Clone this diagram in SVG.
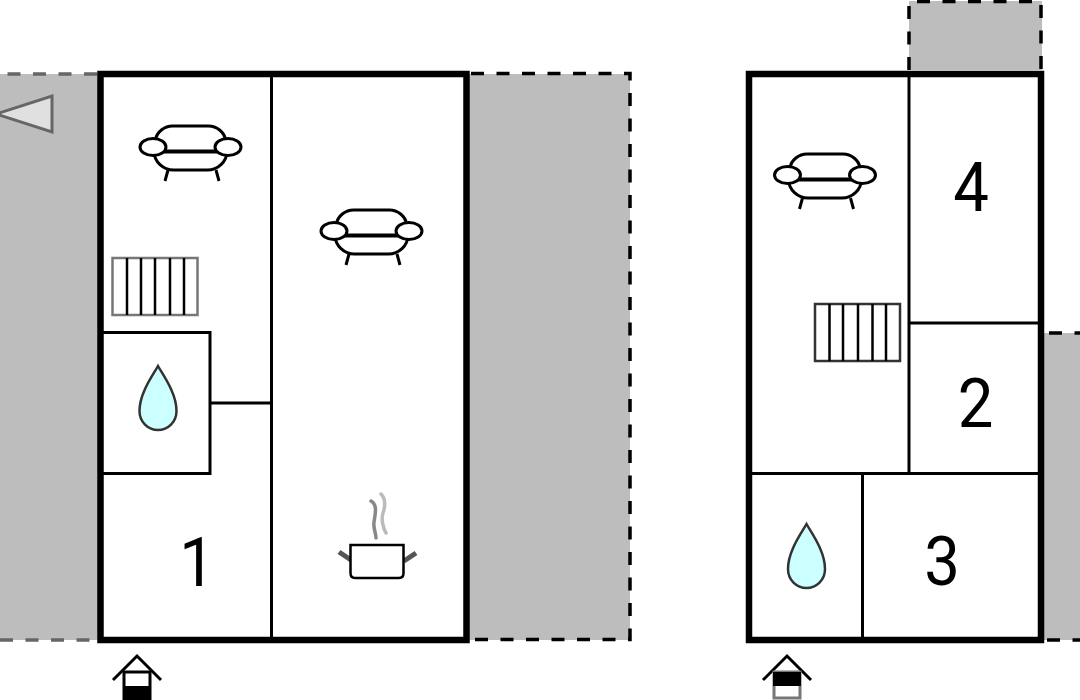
<svg xmlns="http://www.w3.org/2000/svg" width="1080" height="700" viewBox="0 0 1080 700">
<style>
.yard{fill:#bdbdbd}
.dash{fill:none;stroke:#000;stroke-width:3.500;stroke-dasharray:13 12.500}
.dashg{fill:none;stroke:#666;stroke-width:3.500;stroke-dasharray:13 12.500}
.outer{fill:#fff;stroke:#000;stroke-width:6.500}
.wall{fill:none;stroke:#000;stroke-width:3}
.ln{fill:none;stroke:#000;stroke-width:2.500}
.num{font-family:Roboto,"Liberation Sans",Arial,sans-serif;font-size:69px;fill:#000;text-anchor:middle}
.drop{fill:#ccffff;stroke:#333;stroke-width:2.500}
.sofa path,.sofa ellipse{fill:#fff;stroke:#000;stroke-width:3}
</style>
<defs>
<g id="sofa" class="sofa">
<path d="M-35 9V-3C-34-11-26-17-18-17H18C26-17 34-11 35-3V9Z"/>
<path d="M-36.500 8C-36.500 19-27 27-17 27H17C27 27 36.500 19 36.500 8Z"/>
<path d="M-27 9H27"/>
<ellipse cx="-37.500" cy="4" rx="13" ry="8.500"/>
<ellipse cx="37.500" cy="4" rx="13" ry="8.500"/>
<path d="M-22.500 27L-25.500 38M25.500 27L28.500 38"/>
</g>
<path id="drop" d="M0-32C5-23 18.500-5 18.500 13C18.500 24 10 32 0 32C-10 32-18.500 24-18.500 13C-18.500-5-5-23 0-32Z"/>
</defs>

<g id="yards">
<rect class="yard" x="0" y="74" width="100" height="566"/>
<path class="dashg" d="M97 74H0M0 640H100"/>
<rect class="yard" x="468" y="74" width="162" height="566"/>
<path class="dash" d="M471 73.500H630V639.500H474"/>
<rect class="yard" x="909" y="1" width="133" height="69"/>
<path class="dash" d="M909 70V1.500H1041V70"/>
<rect class="yard" x="1042" y="333" width="38" height="307"/>
<path class="dash" d="M1049 333H1080M1047 640H1080"/>
</g>

<g id="compass">
<path d="M52 96V132L-4 114Z" fill="#e0e0e0" stroke="#666" stroke-width="3"/>
</g>

<g id="floor-left">
<rect class="outer" x="100.500" y="74" width="366" height="566"/>
<path class="wall" d="M271.500 74V640"/>
<path class="wall" d="M103 332.500H210V473.500H103"/>
<path class="wall" d="M210 403H271"/>
</g>

<g id="floor-right">
<rect class="outer" x="749" y="74" width="292" height="566"/>
<path class="wall" d="M909 74V473"/>
<path class="wall" d="M909 323H1038"/>
<path class="wall" d="M752 473.500H1038"/>
<path class="wall" d="M862.500 473V637"/>
</g>

<g id="sofa-1"><use href="#sofa" transform="translate(190.500 143)"/></g>
<g id="sofa-2"><use href="#sofa" transform="translate(371.500 227)"/></g>
<g id="sofa-3"><use href="#sofa" transform="translate(825 171)"/></g>

<g id="stairs-left">
<rect x="112.500" y="258" width="85" height="57" fill="#fff" stroke="#777" stroke-width="2.500"/>
<path class="ln" d="M127 258V315M141 258V315M155 258V315M170 258V315M184 258V315"/>
</g>
<g id="stairs-right">
<rect x="815" y="304" width="85" height="57" fill="#fff" stroke="#333" stroke-width="2.500"/>
<path class="ln" d="M829.500 304V361M843 304V361M858 304V361M872.500 304V361M886 304V361"/>
</g>

<g id="bath-left"><use href="#drop" class="drop" transform="translate(158 398)"/></g>
<g id="bath-right"><use href="#drop" class="drop" transform="translate(806.500 556)"/></g>

<g id="kitchen">
<path d="M339 552L351 560M404 561L416 553" fill="none" stroke="#555" stroke-width="5"/>
<path d="M350.500 545H403.500V573Q403.500 578 399 578H355Q350.500 578 350.500 573Z" fill="#fff" stroke="#000" stroke-width="2.500"/>
<path d="M371 501C378 505 375 515 374 522C373 528 376 533 376 538" fill="none" stroke="#888" stroke-width="3.500" stroke-linecap="round"/>
<path d="M381 494C386 499 385 507 383 513C381 519 383 528 386 533" fill="none" stroke="#bbb" stroke-width="3.500" stroke-linecap="round"/>
</g>

<g id="labels">
<text class="num" transform="translate(197 586) scale(.92 1)">1</text>
<text class="num" transform="translate(975.500 427) scale(.92 1)">2</text>
<text class="num" transform="translate(942 585) scale(.92 1)">3</text>
<text class="num" transform="translate(971 211) scale(.92 1)">4</text>
</g>

<g id="entrance-left">
<path d="M113 680L137 656L161 680" fill="none" stroke="#000" stroke-width="3"/>
<rect x="124" y="672" width="26" height="28" fill="#fff" stroke="#000" stroke-width="3"/>
<rect x="123" y="686" width="28" height="14" fill="#000"/>
</g>
<g id="entrance-right">
<path d="M763 680L787 656L811 680" fill="none" stroke="#000" stroke-width="3"/>
<rect x="774" y="672" width="26" height="26" fill="#fff" stroke="#777" stroke-width="3"/>
<rect x="773" y="672" width="28" height="14" fill="#000"/>
</g>
</svg>
